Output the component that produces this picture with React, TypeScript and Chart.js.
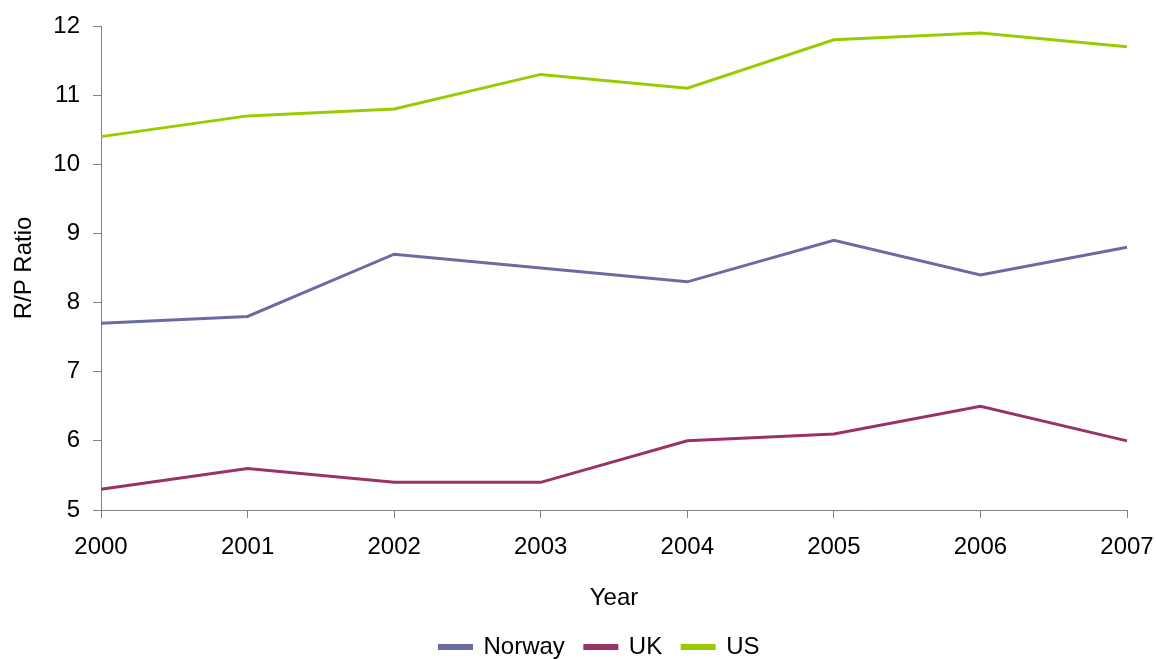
import React, { useEffect, useRef } from "react";
import { Chart, registerables } from "chart.js";

Chart.register(...registerables);

const years = ["2000", "2001", "2002", "2003", "2004", "2005", "2006", "2007"];
const norway = [7.7, 7.8, 8.7, 8.5, 8.3, 8.9, 8.4, 8.8];
const uk = [5.3, 5.6, 5.4, 5.4, 6.0, 6.1, 6.5, 6.0];
const us = [10.4, 10.7, 10.8, 11.3, 11.1, 11.8, 11.9, 11.7];

const FONT = "'Liberation Sans', Arial, sans-serif";

const shiftLegend = {
  id: "shiftLegend",
  afterUpdate(chart: any) {
    const l = chart.legend;
    if (l) {
      l.left += 36;
      l.right += 36;
      if (l.adjustHitBoxes) l.adjustHitBoxes();
    }
  },
};

export default function App() {
  const ref = useRef<HTMLCanvasElement | null>(null);
  useEffect(() => {
    if (!ref.current) return;
    const mk = (label: string, data: number[], color: string) => ({
      label,
      data,
      borderColor: color,
      backgroundColor: color,
      borderWidth: 3,
      pointRadius: 0,
      tension: 0,
      fill: false,
    });
    const chart = new Chart(ref.current, {
      type: "line",
      data: {
        labels: years,
        datasets: [
          mk("Norway", norway, "#6B6BA3"),
          mk("UK", uk, "#993366"),
          mk("US", us, "#99CC00"),
        ],
      },
      plugins: [shiftLegend],
      options: {
        animation: false,
        responsive: false,
        layout: { padding: { left: 0, right: 29, top: 26, bottom: -10 } },
        plugins: {
          tooltip: { enabled: false },
          legend: {
            position: "bottom",
            labels: {
              font: { family: FONT, size: 24 },
              color: "#000",
              boxWidth: 32,
              boxHeight: 3,
              padding: 20,
            },
          },
        },
        scales: {
          x: {
            type: "category",
            offset: false,
            border: { display: true, color: "#808080", width: 1 },
            grid: {
              display: true,
              drawOnChartArea: false,
              drawTicks: true,
              tickLength: 8,
              tickColor: "#808080",
            },
            ticks: {
              font: { family: FONT, size: 24 },
              color: "#000",
              padding: 15,
              maxRotation: 0,
              autoSkip: false,
            },
            title: {
              display: true,
              text: "Year",
              font: { family: FONT, size: 24 },
              color: "#000",
              padding: { top: 10, bottom: 2 },
            },
            afterFit: (s: any) => {
              s.height = 105;
              s.paddingLeft = 0;
              s.paddingRight = 0;
            },
          },
          y: {
            min: 5,
            max: 12,
            border: { display: true, color: "#808080", width: 1 },
            grid: {
              display: true,
              drawOnChartArea: false,
              drawTicks: true,
              tickLength: 8,
              tickColor: "#808080",
            },
            ticks: {
              stepSize: 1,
              font: { family: FONT, size: 24 },
              color: "#000",
              padding: 13,
            },
            title: {
              display: true,
              text: "R/P Ratio",
              font: { family: FONT, size: 24 },
              color: "#000",
              padding: { top: 10, bottom: 0 },
            },
            afterFit: (s: any) => {
              s.width = 101;
              s.paddingTop = 0;
              s.paddingBottom = 0;
            },
          },
        },
      },
    });
    return () => chart.destroy();
  }, []);
  return (
    <div style={{ position: "fixed", left: 0, top: 0, width: 1156, height: 659, background: "#fff" }}>
      <canvas ref={ref} width={1156} height={659} style={{ display: "block" }} />
    </div>
  );
}
